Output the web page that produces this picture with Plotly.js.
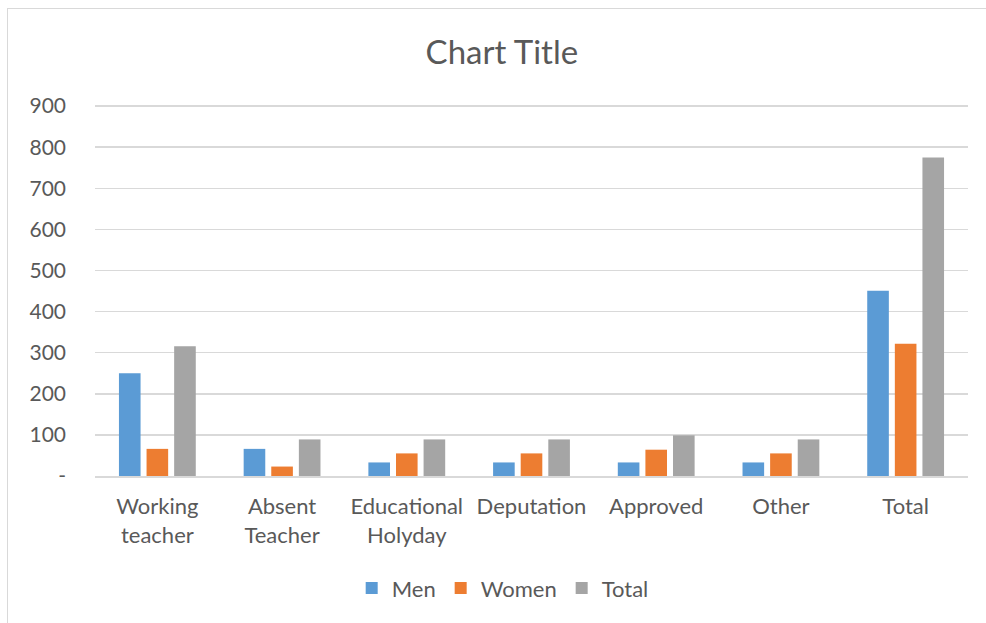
<!DOCTYPE html>
<html><head><meta charset="utf-8">
<script src="https://cdn.plot.ly/plotly-3.0.1.min.js"></script>
<style>
html,body{margin:0;padding:0;background:#fff;overflow:hidden;}
#chart{position:absolute;left:0;top:0;width:986px;height:623px;}
#frame{position:absolute;left:7px;top:8px;width:1000px;height:640px;border:1px solid #d9d9d9;pointer-events:none;z-index:5;}
</style></head>
<body>
<div id="chart"></div>
<div id="frame"></div>
<script>
const categories = ["Working<br>teacher","Absent<br>Teacher","Educational<br>Holyday","Deputation","Approved","Other","Total"];
const men = [250, 66, 33, 33, 33, 33, 451];
const women = [66, 23, 55, 55, 64, 55, 322];
const total = [316, 89, 89, 89, 99, 89, 775];
const yTickVals = [0,100,200,300,400,500,600,700,800,900];
const yTickText = ["-","100","200","300","400","500","600","700","800","900"];

const font = "Lato, 'Open Sans', sans-serif";
const txt = "#595959";
const traces = [
  {type:"bar", name:"Men", x:categories, y:men, marker:{color:"#5B9BD5"}},
  {type:"bar", name:"Women", x:categories, y:women, marker:{color:"#ED7D31"}},
  {type:"bar", name:"Total", x:categories, y:total, marker:{color:"#A5A5A5"}}
];
const layout = {
  width:986, height:623,
  margin:{l:95, r:18, t:102, b:147},
  paper_bgcolor:"#fff", plot_bgcolor:"#fff",
  font:{family:font, color:txt, size:22},
  title:{text:"Chart Title", font:{family:font, size:33, color:txt}, x:0.509, xref:"container", xanchor:"center", y:0.916, yref:"container", yanchor:"middle"},
  barmode:"group", bargap:0.336, bargroupgap:0.217,
  xaxis:{type:"category", showgrid:false, showline:true, linecolor:"#d9d9d9", linewidth:1.5, ticks:"", ticklabelstandoff:10, tickfont:{size:22, color:txt}, fixedrange:true},
  yaxis:{range:[0,910], tickvals:yTickVals, ticktext:yTickText, showgrid:true, gridcolor:"#d9d9d9", gridwidth:1.5, zeroline:false, showline:false, ticks:"", ticklabelstandoff:28, tickfont:{size:21, color:txt}, fixedrange:true},
  showlegend:true,
  legend:{orientation:"h", x:0.467, xanchor:"center", y:-0.3, yanchor:"middle", font:{size:22, color:txt}, itemwidth:30, itemclick:false},
};
Plotly.newPlot("chart", traces, layout, {displayModeBar:false, staticPlot:true});
</script>
</body></html>
